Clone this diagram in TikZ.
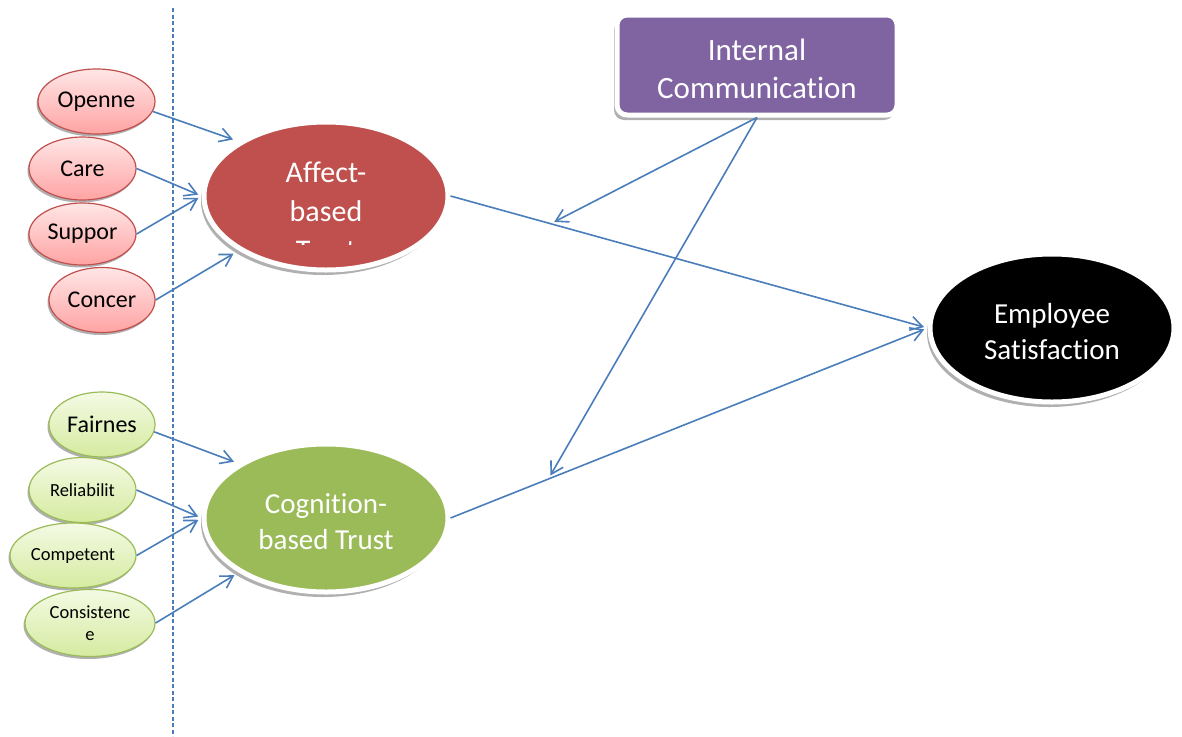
\documentclass[tikz,border=0pt]{standalone}
\usepackage{fontspec}
\setmainfont{Carlito}[Ligatures={NoCommon}]
\usetikzlibrary{arrows.meta,shapes.geometric}

\definecolor{linkblue}{HTML}{4A7EBB}
\definecolor{affred}{HTML}{C0504D}
\definecolor{coggreen}{HTML}{9BBB59}
\definecolor{icpurple}{HTML}{8064A2}
\definecolor{pinktop}{HTML}{FFE6E6}
\definecolor{pinkbot}{HTML}{FFA3A3}
\definecolor{redrim}{HTML}{C0504D}
\definecolor{limetop}{HTML}{F4FAE4}
\definecolor{limebot}{HTML}{D5EBA0}
\definecolor{greenrim}{HTML}{9BBB59}
\definecolor{shadowgrey}{HTML}{B0B0B0}

% extra height on a first line, to lower a two-line label a little
\newcommand{\lowerby}[1]{\rule{0pt}{#1}}

\begin{document}
\begin{tikzpicture}[x=1pt,y=-1pt,
  link/.style={draw=linkblue, line width=1.6pt,
    -{Straight Barb[length=12pt,width=14pt,line width=1.6pt]}},
  smallshadow/.style={preaction={fill=shadowgrey, draw=none,
    transform canvas={xshift=-1.5pt,yshift=-2.5pt}}},
  bigshadow/.style={preaction={fill=shadowgrey, draw=none,
    transform canvas={xshift=-3pt,yshift=-5pt}}},
  redoval/.style={ellipse, inner sep=0pt, draw=redrim, line width=1.2pt,
    top color=pinktop, bottom color=pinkbot, smallshadow,
    font=\fontsize{24}{28}\selectfont},
  greenoval/.style={ellipse, inner sep=0pt, draw=greenrim, line width=1.2pt,
    top color=limetop, bottom color=limebot, smallshadow, align=center},
  bigoval/.style={ellipse, inner sep=0pt, draw=white, line width=5pt,
    minimum width=244pt, minimum height=148pt, bigshadow,
    text=white, align=center, font=\fontsize{29}{36}\selectfont},
  icbox/.style={rectangle, rounded corners=10pt, inner sep=0pt,
    draw=white, line width=5pt, fill=icpurple, bigshadow,
    minimum width=280pt, minimum height=100pt,
    text=white, align=center, font=\fontsize{31}{38}\selectfont},
  sep/.style={draw=linkblue, line width=1.2pt, dash pattern=on 4pt off 2.5pt}
]
\useasboundingbox (0,0) rectangle (1182,736);

% separator between indicators and constructs
\coordinate (septop) at (173,8);
\coordinate (sepbot) at (173,736);
\draw[sep] (septop) -- (sepbot);

% affect-based indicators
\node[redoval, minimum width=117pt, minimum height=65pt] (op) at (96.5,101.5) {Openne};
\node[redoval, minimum width=107pt, minimum height=63pt] (care) at (82.5,168.5) {Care};
\node[redoval, minimum width=107pt, minimum height=62pt] (supp) at (82.5,234) {Suppor};
\node[redoval, minimum width=106pt, minimum height=65pt] (conc) at (102,300) {Concer};

% cognition-based indicators
\node[greenoval, minimum width=106pt, minimum height=65pt,
  font=\fontsize{24}{28}\selectfont] (fair) at (102,424.5) {Fairnes};
\node[greenoval, minimum width=107pt, minimum height=65pt,
  font=\fontsize{18.5}{22}\selectfont] (rel) at (82.5,490) {Reliabilit};
\node[greenoval, minimum width=126pt, minimum height=65pt,
  font=\fontsize{18.5}{22}\selectfont] (comp) at (73,555.5) {Competent};
\node[greenoval, minimum width=130pt, minimum height=67pt,
  font=\fontsize{18.5}{22}\selectfont] (cons) at (90,623) {Consistenc\\e};

% constructs
\node[bigoval, fill=affred] (aff) at (326,196) {};
\begin{scope}
  \clip (200,110) rectangle (460,244.5);
  \node[text=white, align=center, inner sep=0pt,
    font=\fontsize{30}{39}\selectfont] (afftext) at (326,211) {Affect-\\based\\Trust};
\end{scope}
\node[bigoval, fill=coggreen] (cog) at (326,518) {\lowerby{27pt}Cognition-\\based Trust};
\node[bigoval, fill=black] (emp) at (1052,328) {\lowerby{27pt}Employee\\Satisfaction};
\node[icbox] (ic) at (757,65) {\lowerby{30pt}Internal\\Communication};

% indicator arrows
\draw[link, shorten >=6pt] (op.-10) -- (aff.148);
\draw[link, shorten >=3.5pt] (care.east) -- (aff.west);
\draw[link, shorten >=3.5pt] (supp.east) -- (aff.west);
\draw[link, shorten >=6pt] (conc.east) -- (aff.212);

\draw[link, shorten >=5pt] (fair.-8) -- (cog.148);
\draw[link, shorten >=3.5pt] (rel.east) -- (cog.west);
\draw[link, shorten >=3.5pt] (comp.east) -- (cog.west);
\draw[link, shorten >=5pt] (cons.east) -- (cog.212);

% structural paths
\draw[link, shorten >=3.5pt] (aff.east) -- (emp.west);
\draw[link, shorten >=3.5pt] (cog.east) -- (emp.west);

% moderation by internal communication
\path (aff.east) -- (emp.west) coordinate[pos=0.21] (modA);
\path (cog.east) -- (emp.west) coordinate[pos=0.205] (modC);
\draw[link, shorten >=4pt] (ic.south) -- (modA);
\draw[link, shorten >=4pt] (ic.south) -- (modC);
\end{tikzpicture}
\end{document}
